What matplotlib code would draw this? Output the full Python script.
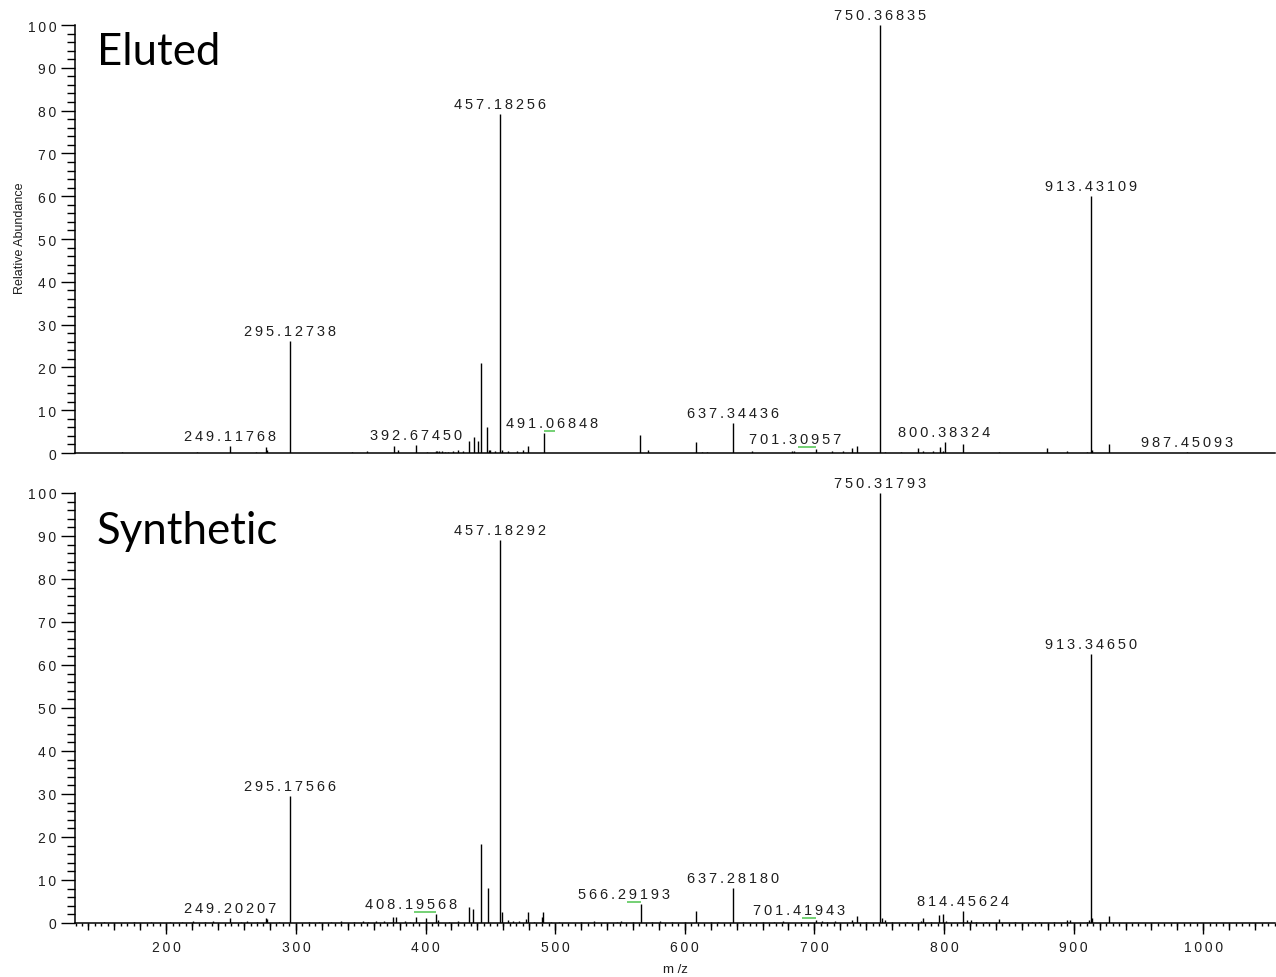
import numpy as np
import matplotlib
matplotlib.use("Agg")
import matplotlib.pyplot as plt
from matplotlib.ticker import MultipleLocator, FuncFormatter
from matplotlib.transforms import offset_copy

# Espectro do peptídeo eluído (m/z, abundância relativa)
eluted_mz = [165.8, 224.0, 249.11768, 269.4, 276.7, 277.4, 295.12738, 343.0, 354.6,
             375.7, 379.0, 392.67450, 400.9, 407.8, 409.0, 410.5, 412.4, 415.0, 417.5,
             421.4, 425.3, 429.1, 433.7, 437.6, 440.2, 442.8, 447.2, 448.7, 449.7,
             453.6, 457.18256, 458.7, 463.8, 470.3, 475.4, 479.3, 491.06848, 565.7,
             571.8, 608.6, 613.5, 617.0, 637.34436, 651.6, 683.0, 684.5, 701.30957,
             713.3, 721.8, 728.7, 732.6, 750.36835, 754.4, 766.8, 779.6, 784.0, 791.2,
             796.9, 798.9, 800.38324, 814.8, 842.6, 879.2, 895.1, 910.0, 913.43109,
             914.5, 927.5, 987.45093]
eluted_int = [0.3, 0.3, 1.7, 0.3, 1.5, 0.8, 26.2, 0.3, 0.4,
              1.7, 0.6, 1.8, 0.3, 0.5, 0.5, 0.4, 0.4, 0.3, 0.3,
              0.4, 0.6, 0.5, 2.9, 3.7, 2.8, 21.0, 6.1, 0.8, 0.8,
              0.5, 79.2, 0.7, 0.4, 0.4, 0.6, 1.6, 4.6, 4.3,
              0.8, 2.6, 0.3, 0.3, 7.0, 0.5, 0.4, 0.4, 0.9,
              0.4, 0.4, 1.2, 1.6, 100.0, 0.3, 0.3, 1.2, 0.4, 0.4,
              1.4, 0.4, 2.6, 2.1, 0.3, 1.2, 0.4, 0.3, 60.0,
              0.6, 2.1, 0.2]
eluted_labels = [249.11768, 295.12738, 392.67450, 457.18256, 491.06848, 637.34436,
                 701.30957, 750.36835, 800.38324, 913.43109, 987.45093]

# Espectro do peptídeo sintético
synth_mz = [152.0, 175.0, 188.0, 203.0, 212.0, 221.0, 230.0, 236.0, 249.20207, 258.0,
            262.0, 270.0, 276.7, 277.4, 287.0, 295.17566, 310.0, 318.0, 327.0, 335.0,
            345.0, 352.0, 356.0, 362.0, 368.0, 375.2, 377.3, 384.0, 388.0, 392.4,
            400.3, 408.19568, 410.0, 418.0, 425.0, 433.5, 436.4, 442.5, 448.4,
            457.18292, 458.7, 463.8, 467.7, 472.0, 477.3, 479.3, 484.0, 489.6, 490.4,
            497.0, 503.0, 520.0, 530.0, 548.0, 551.0, 560.0, 566.29193, 575.0, 581.0,
            590.0, 600.0, 608.4, 620.0, 626.0, 637.28180, 645.0, 660.0, 669.0, 676.0,
            690.0, 701.41943, 706.0, 710.0, 716.0, 728.7, 732.6, 740.0, 750.31793,
            751.9, 754.4, 760.0, 771.2, 782.0, 784.0, 790.0, 796.3, 799.4, 801.6,
            814.45624, 818.0, 820.5, 825.0, 832.0, 842.6, 855.0, 867.6, 873.0, 885.0,
            894.6, 897.2, 910.0, 912.0, 913.34650, 914.5, 927.5]
synth_int = [0.2, 0.3, 0.2, 0.3, 0.3, 0.4, 0.3, 0.4, 1.1, 0.3,
             0.4, 0.3, 1.1, 0.9, 0.3, 29.5, 0.3, 0.3, 0.3, 0.4,
             0.3, 0.4, 0.3, 0.5, 0.4, 1.3, 1.3, 0.4, 0.3, 1.3,
             1.1, 2.1, 0.6, 0.3, 0.4, 3.8, 3.3, 18.4, 8.1,
             89.1, 2.5, 0.7, 0.5, 0.4, 1.0, 2.6, 0.3, 1.3, 2.6,
             0.3, 0.3, 0.3, 0.4, 0.3, 0.5, 0.3, 4.4, 0.3, 0.4,
             0.3, 0.3, 2.9, 0.3, 0.3, 8.1, 0.3, 0.3, 0.3, 0.4,
             0.3, 0.7, 0.4, 0.3, 0.4, 0.8, 1.7, 0.3, 100.0,
             1.1, 0.7, 0.3, 0.3, 0.4, 1.1, 0.3, 1.9, 2.1, 0.4,
             2.7, 0.6, 0.6, 0.3, 0.3, 0.9, 0.3, 0.3, 0.3, 0.3,
             0.6, 0.6, 0.3, 0.6, 62.6, 1.2, 1.7]
synth_labels = [249.20207, 295.17566, 408.19568, 457.18292, 566.29193, 637.28180,
                701.41943, 750.31793, 814.45624, 913.34650]

# rótulos deslocados do pico (posição do texto em m/z)
eluted_shift = {491.06848: 497.7, 701.30957: 685.4}
synth_shift = {408.19568: 388.8, 566.29193: 553.1, 701.41943: 688.5}

TXT = "#1e1e1e"
NUM_FONT = ["Liberation Sans", "DejaVu Sans"]


def espacar(s):
    # espaço fino entre os caracteres, como no software do espectrômetro
    return "\u2009".join(s)


def desenhar(ax, mz, inten, labels, shift, titulo, title_y):
    ax.vlines(mz, 0, inten, color="black", lw=1.0)
    ax.set_xlim(129.6, 1055.3)
    ax.set_ylim(0, 100)
    for sp in ["top", "right"]:
        ax.spines[sp].set_visible(False)
    for sp in ["left", "bottom"]:
        ax.spines[sp].set_linewidth(1.1)
    ax.yaxis.set_major_locator(MultipleLocator(10))
    ax.yaxis.set_minor_locator(MultipleLocator(2))
    ax.yaxis.set_major_formatter(FuncFormatter(lambda v, p: espacar(f"{v:.0f}")))
    ax.tick_params(axis="y", which="major", length=10, width=1.0, pad=3.5,
                   labelsize=10, labelcolor=TXT)
    ax.tick_params(axis="y", which="minor", length=6, width=1.0)
    for t in ax.get_yticklabels():
        t.set_family(NUM_FONT)

    lookup = dict(zip(mz, inten))
    for m in labels:
        h = lookup[m]
        x_txt = shift.get(m, m)
        ax.annotate(espacar(f"{m:.5f}"), xy=(x_txt, h), xytext=(0, 6),
                    textcoords="offset pixels", ha="center", va="baseline",
                    fontsize=10.5, family=NUM_FONT, color=TXT)
        if m in shift:
            tr = offset_copy(ax.transData, fig=ax.figure, x=0, y=2, units="dots")
            ax.plot([x_txt + 2, m], [h, h], color="#5cc85c", lw=1.2,
                    transform=tr, solid_capstyle="butt")

    ax.text(0.018, title_y, titulo, transform=ax.transAxes, fontsize=31.5,
            family="Lato", va="baseline", ha="left", color="black")


fig = plt.figure(figsize=(12.76, 9.78), dpi=100)
ax1 = fig.add_axes([75 / 1276, 1 - 454 / 978, 1200 / 1276, 428 / 978])
ax2 = fig.add_axes([75 / 1276, 1 - 924 / 978, 1200 / 1276, 430 / 978])

desenhar(ax1, eluted_mz, eluted_int, eluted_labels, eluted_shift, "Eluted", 0.909)
desenhar(ax2, synth_mz, synth_int, synth_labels, synth_shift, "Synthetic", 0.884)

# painel superior sem marcas no eixo x
ax1.tick_params(axis="x", which="both", bottom=False, labelbottom=False)

# eixo m/z do painel inferior: 100 / 20 / 5
ax2.xaxis.set_major_locator(MultipleLocator(100))
ax2.xaxis.set_minor_locator(MultipleLocator(5))
ax2.xaxis.set_major_formatter(FuncFormatter(lambda v, p: espacar(f"{v:.0f}")))
ax2.tick_params(axis="x", which="major", length=8, width=1.0, pad=4.5,
                labelsize=10, labelcolor=TXT)
ax2.tick_params(axis="x", which="minor", length=2.5, width=1.0)
for t in ax2.get_xticklabels():
    t.set_family(NUM_FONT)
sec = ax2.secondary_xaxis("bottom")
sec.set_xticks(np.arange(140, 1060, 20))
sec.tick_params(axis="x", length=5, width=1.0, labelbottom=False)
sec.spines["bottom"].set_visible(False)

fig.text(20 / 1276, 1 - 238 / 978, "Relative Abundance", rotation=90,
         ha="center", va="center", fontsize=9, family=NUM_FONT, color=TXT)
ax2.set_xlabel("m /z", fontsize=9.5, family=NUM_FONT, color=TXT, labelpad=6)

fig.savefig("out.png", dpi=100)
